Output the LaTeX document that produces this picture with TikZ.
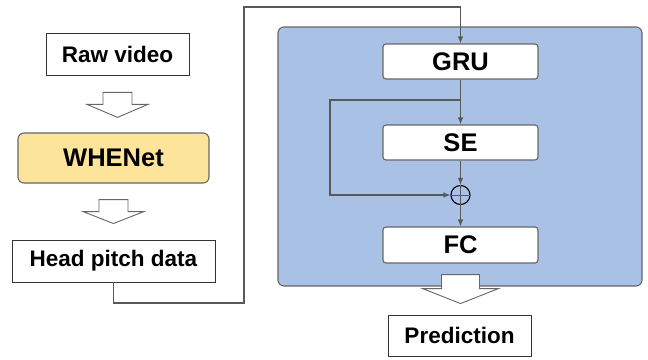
\documentclass[tikz,border=0pt]{standalone}
\usepackage{fontspec}
\setmainfont{Liberation Sans}
\usetikzlibrary{arrows.meta, calc}
\definecolor{panelcol}{RGB}{168, 193, 228}
\definecolor{netcol}{RGB}{252, 229, 155}
\definecolor{wirecol}{RGB}{89, 89, 89}
\definecolor{edgecol}{RGB}{102, 102, 102}

% hollow down arrow: top centre, shaft half width, head half width, shaft length, head length
\newcommand{\fatdown}[5]{%
  \draw[fatarrow] (#1) ++(-#2,0) -- ++(0,#4) -- ++(#2-#3,0) -- ++(#3,#5)
    -- ++(#3,-#5) -- ++(#2-#3,0) -- ++(0,-#4) -- cycle;}

\begin{document}
\begin{tikzpicture}[
    x=1pt, y=-1pt,
    font=\bfseries,
    flow/.style={-{Latex[length=7pt, width=5.5pt]}, draw=wirecol, line width=1.1pt},
    wire/.style={draw=wirecol, line width=1.1pt},
    fatarrow/.style={draw=edgecol, fill=white, line width=0.9pt, line join=miter},
    plainbox/.style={draw=black!80, fill=white, line width=0.8pt, font=\fontsize{22.5}{26}\selectfont\bfseries},
    layerbox/.style={draw=edgecol, fill=white, rounded corners=3pt, line width=1.1pt,
                     minimum width=155pt, minimum height=35pt, font=\fontsize{25.5}{28}\selectfont\bfseries},
    netbox/.style={draw=edgecol, fill=netcol, rounded corners=6pt, line width=1.1pt,
                   minimum width=191pt, minimum height=50pt, font=\fontsize{25.5}{28}\selectfont\bfseries},
    sumnode/.style={circle, draw=black, line width=1.1pt, minimum size=19pt, inner sep=0pt}
]
\useasboundingbox (0,0) rectangle (648,359);

% Left pipeline
\node[plainbox, minimum width=143pt, minimum height=42pt] (raw) at (117.5,54) {Raw video};
\node[netbox] (whenet) at (113.5,158) {WHENet};
\node[plainbox, minimum width=203pt, minimum height=42pt] (pitch) at (113.5,261) {Head pitch data};

\fatdown{$(raw.south)+(0,17)$}{14.5}{30.5}{12}{13}
\fatdown{$(whenet.south)+(0,16)$}{14.5}{30.5}{12}{12}

% Model panel
\draw[draw=edgecol, fill=panelcol, rounded corners=6pt, line width=1.1pt] (278,27) rectangle (642,286);
\node[layerbox] (gru) at (460.5,61.5) {GRU};
\node[layerbox] (se)  at (460.5,142.5) {SE};
\node[sumnode] (plus) at (460.5,195) {};
\draw[wire, line width=0.8pt] (plus.north) -- (plus.south);
\draw[wire, line width=0.8pt] (plus.west) -- (plus.east);
\node[layerbox, minimum height=36pt] (fc) at (460.5,245) {FC};

% Output
\fatdown{$(fc.south)+(0,11)$}{19}{38}{14}{15}
\node[plainbox, minimum width=143pt, minimum height=41pt] (pred) at (459.5,335.5) {Prediction};

% Head pitch data into the model
\coordinate (route0) at (244,303);
\coordinate (route1) at (244,7);
\draw[flow] (pitch.south) |- (route0) -- (route1) -| (gru.north);

% Residual branch around SE
\coordinate (split) at (460.5,100);
\coordinate (skip) at (330,100);
\draw[flow] (gru.south) -- (se.north);
\draw[flow] (split) -- (skip) |- (plus.west);
\draw[flow] (se.south) -- (plus.north);
\draw[flow] (plus.south) -- (fc.north);

\end{tikzpicture}
\end{document}
